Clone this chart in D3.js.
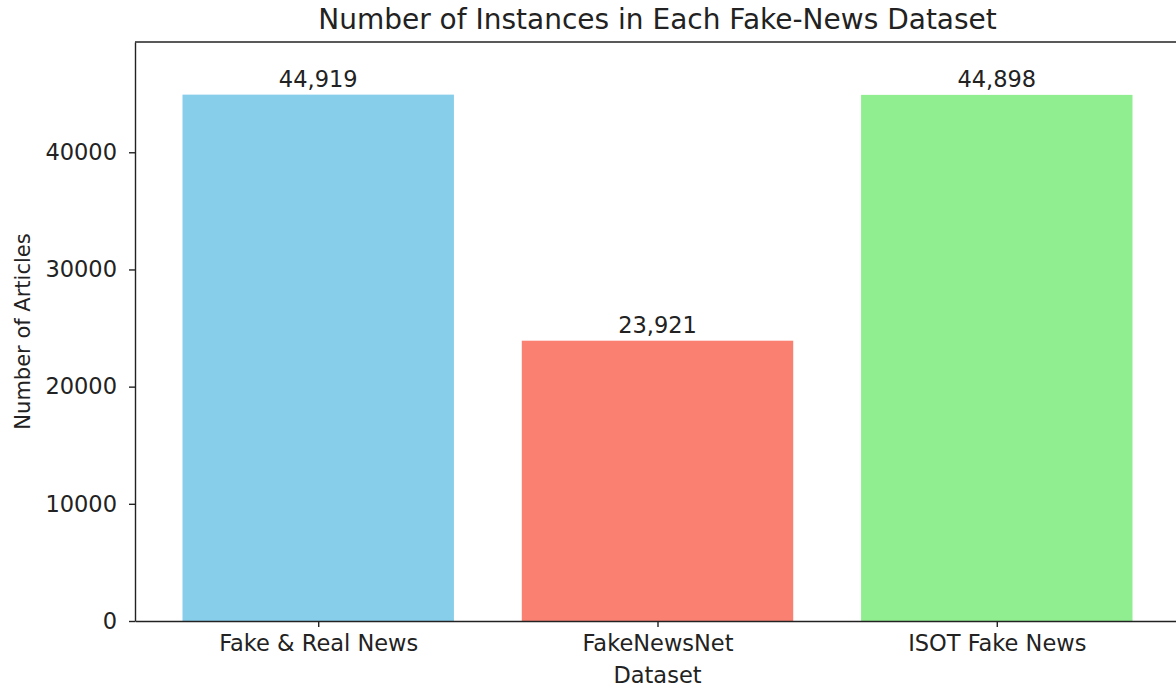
<!DOCTYPE html>
<html>
<head>
<meta charset="utf-8">
<script src="https://cdn.jsdelivr.net/npm/d3@7"></script>
<style>
  html, body { margin: 0; padding: 0; background: #fff; }
  svg { display: block; font-family: "DejaVu Sans", sans-serif; }
</style>
</head>
<body>
<svg id="chart" width="1176" height="688"></svg>
<script>
// Dataset sizes
const datasets = ["Fake & Real News", "FakeNewsNet", "ISOT Fake News"];
const counts = [44919, 23921, 44898];
const barColors = ["#87CEEB", "#FA8072", "#90EE90"];
const yTicks = [0, 10000, 20000, 30000, 40000];

const svg = d3.select("#chart");
const margin = { left: 135, top: 42, bottom: 67 };
const plotRight = 1180;
const height = 688;
const ink = "#222";
const fs = 22.5;

// Bars take 0.8 of each slot; x range padded by 5% of the data span
const x = d3.scaleLinear().domain([-0.54, 2.54]).range([margin.left, plotRight]);
const y = d3.scaleLinear()
  .domain([0, d3.max(counts) * 1.1])
  .range([height - margin.bottom, margin.top]);

const fmt = d3.format(",");

// Bars
svg.append("g").selectAll("rect")
  .data(counts)
  .join("rect")
  .attr("x", (d, i) => x(i - 0.4))
  .attr("width", (d, i) => x(i + 0.4) - x(i - 0.4))
  .attr("y", d => y(d))
  .attr("height", d => y(0) - y(d))
  .attr("fill", (d, i) => barColors[i]);

// Value labels above bars
svg.append("g").selectAll("text")
  .data(counts)
  .join("text")
  .attr("x", (d, i) => x(i))
  .attr("y", d => y(d) - 8)
  .attr("text-anchor", "middle")
  .attr("font-size", fs)
  .attr("fill", ink)
  .text(d => fmt(d));

// Y axis
const yAxis = svg.append("g")
  .attr("transform", `translate(${margin.left},0)`)
  .call(d3.axisLeft(y).tickValues(yTicks).tickFormat(d3.format("d"))
    .tickSize(6).tickSizeOuter(0).tickPadding(12));
yAxis.select(".domain").attr("stroke", ink).attr("stroke-width", 1.4);
yAxis.selectAll(".tick line").attr("stroke", ink).attr("stroke-width", 1.4);
yAxis.selectAll(".tick text").attr("font-size", fs).attr("fill", ink)
  .attr("font-family", "DejaVu Sans, sans-serif");

// X axis
const xAxis = svg.append("g")
  .attr("transform", `translate(0,${y(0)})`)
  .call(d3.axisBottom(x).tickValues([0, 1, 2]).tickFormat(i => datasets[i])
    .tickSize(6).tickSizeOuter(0).tickPadding(8));
xAxis.select(".domain").attr("stroke", ink).attr("stroke-width", 1.4);
xAxis.selectAll(".tick line").attr("stroke", ink).attr("stroke-width", 1.4);
xAxis.selectAll(".tick text").attr("font-size", fs).attr("fill", ink)
  .attr("font-family", "DejaVu Sans, sans-serif");

// Top spine
svg.append("line")
  .attr("x1", margin.left).attr("x2", plotRight)
  .attr("y1", margin.top).attr("y2", margin.top)
  .attr("stroke", ink).attr("stroke-width", 1.4);

// Title and axis labels
svg.append("text")
  .attr("x", x(1)).attr("y", 29)
  .attr("text-anchor", "middle")
  .attr("font-size", 28)
  .attr("fill", ink)
  .text("Number of Instances in Each Fake-News Dataset");

svg.append("text")
  .attr("x", x(1)).attr("y", 683)
  .attr("text-anchor", "middle")
  .attr("font-size", fs)
  .attr("fill", ink)
  .text("Dataset");

svg.append("text")
  .attr("transform", `translate(30,${(margin.top + y(0)) / 2}) rotate(-90)`)
  .attr("text-anchor", "middle")
  .attr("font-size", 21)
  .attr("fill", ink)
  .text("Number of Articles");
</script>
</body>
</html>
